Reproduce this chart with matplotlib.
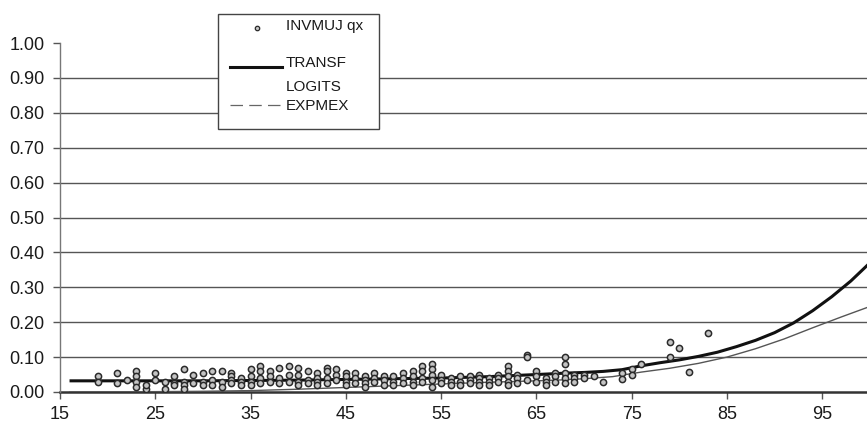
import matplotlib
matplotlib.use("Agg")
import matplotlib.pyplot as plt
from matplotlib.lines import Line2D
from matplotlib.patches import Rectangle

plt.rcParams["font.family"] = ["Liberation Sans", "DejaVu Sans"]

# Observed death probabilities (age, qx)
obs_age = [
    19, 19, 21, 21, 22, 23, 23, 23, 23, 24, 24, 25, 25, 26, 26, 27, 27, 27,
    28, 28, 28, 28, 29, 29, 30, 30, 30, 31, 31, 31, 32, 32, 32, 33, 33, 33, 33,
    34, 34, 34, 35, 35, 35, 35, 36, 36, 36, 36, 37, 37, 37, 38, 38, 38,
    39, 39, 39, 40, 40, 40, 40, 41, 41, 41, 42, 42, 42, 42, 43, 43, 43, 43,
    44, 44, 44, 45, 45, 45, 45, 46, 46, 46, 47, 47, 47, 47, 48, 48, 48,
    49, 49, 49, 50, 50, 50, 51, 51, 51, 52, 52, 52, 52, 53, 53, 53, 53,
    54, 54, 54, 54, 54, 55, 55, 55, 56, 56, 56, 57, 57, 57, 58, 58, 58,
    59, 59, 59, 59, 60, 60, 60, 61, 61, 61, 62, 62, 62, 62, 62, 63, 63, 63,
    64, 64, 64, 65, 65, 65, 66, 66, 66, 67, 67, 67, 68, 68, 68, 68, 68,
    69, 69, 69, 70, 70, 71, 72, 74, 74, 75, 75, 76, 79, 79, 80, 81, 83,
]
obs_qx = [
    0.045, 0.030, 0.055, 0.025, 0.035, 0.060, 0.045, 0.030, 0.015, 0.010, 0.020,
    0.055, 0.035, 0.030, 0.010, 0.045, 0.025, 0.020,
    0.065, 0.030, 0.020, 0.010, 0.050, 0.025, 0.055, 0.030, 0.020,
    0.060, 0.035, 0.020, 0.060, 0.030, 0.015, 0.055, 0.045, 0.035, 0.025,
    0.040, 0.030, 0.020, 0.065, 0.045, 0.030, 0.020, 0.075, 0.060, 0.040, 0.025,
    0.060, 0.045, 0.030, 0.070, 0.040, 0.025,
    0.075, 0.050, 0.030, 0.070, 0.050, 0.030, 0.020, 0.060, 0.035, 0.025,
    0.055, 0.040, 0.030, 0.020, 0.070, 0.060, 0.040, 0.025,
    0.065, 0.050, 0.035, 0.055, 0.045, 0.030, 0.020, 0.055, 0.040, 0.025,
    0.045, 0.035, 0.025, 0.015, 0.055, 0.040, 0.030,
    0.045, 0.035, 0.020, 0.045, 0.030, 0.020, 0.055, 0.040, 0.025,
    0.060, 0.045, 0.030, 0.020, 0.075, 0.060, 0.040, 0.030,
    0.080, 0.065, 0.050, 0.035, 0.015, 0.050, 0.035, 0.025, 0.040, 0.030, 0.020,
    0.045, 0.030, 0.020, 0.045, 0.035, 0.025,
    0.050, 0.040, 0.030, 0.020, 0.040, 0.030, 0.020, 0.050, 0.040, 0.030,
    0.075, 0.060, 0.045, 0.030, 0.020, 0.050, 0.040, 0.025,
    0.105, 0.100, 0.035, 0.060, 0.045, 0.030, 0.040, 0.030, 0.020,
    0.055, 0.045, 0.030, 0.100, 0.080, 0.055, 0.040, 0.025,
    0.050, 0.040, 0.030, 0.050, 0.040, 0.045, 0.029, 0.054, 0.037, 0.066, 0.050,
    0.080, 0.143, 0.100, 0.126, 0.057, 0.169,
]

# Fitted curve: transformed logits
transf_age = [16, 20, 25, 30, 35, 40, 45, 50, 55, 60, 65, 68, 70, 72, 74, 76,
              78, 80, 82, 84, 86, 88, 90, 92, 94, 96, 98, 100]
transf_qx = [0.032, 0.032, 0.032, 0.032, 0.033, 0.034, 0.036, 0.038, 0.040,
             0.044, 0.050, 0.054, 0.056, 0.059, 0.064, 0.075, 0.084, 0.092,
             0.102, 0.114, 0.130, 0.148, 0.170, 0.198, 0.233, 0.273, 0.318,
             0.370]

# Fitted curve: EXPMEX
expmex_age = [16, 25, 30, 35, 40, 45, 50, 55, 60, 65, 68, 70, 73, 76, 79, 82,
              85, 88, 91, 94, 97, 100]
expmex_qx = [0.000, 0.001, 0.002, 0.004, 0.008, 0.013, 0.018, 0.023, 0.028,
             0.032, 0.035, 0.038, 0.044, 0.057, 0.068, 0.082, 0.100, 0.124,
             0.152, 0.184, 0.215, 0.245]

y_ticks = [0.0, 0.1, 0.2, 0.3, 0.4, 0.5, 0.6, 0.7, 0.8, 0.9, 1.0]
x_ticks = [15, 25, 35, 45, 55, 65, 75, 85, 95]

W, H = 867, 426
fig = plt.figure(figsize=(W / 100, H / 100), dpi=100)
fig.patch.set_facecolor("white")
ax = fig.add_axes([60 / W, 1 - 392 / H, 807 / W, (392 - 43) / H])

for y in y_ticks[1:-1]:
    ax.axhline(y, color="#555555", lw=1.0, zorder=1)

ax.plot(expmex_age, expmex_qx, color="#555555", lw=1.0, zorder=3)
ax.plot(transf_age, transf_qx, color="#111111", lw=2.2, zorder=4,
        solid_capstyle="butt")
ax.scatter(obs_age, obs_qx, s=20, facecolor="#c4c4c4", edgecolor="#2a2a2a",
           linewidths=1.1, zorder=5)

ax.set_xlim(15, 99.7)
ax.set_ylim(0, 1.0)
ax.set_xticks(x_ticks)
ax.set_yticks(y_ticks)
ax.set_yticklabels([f"{v:.2f}" for v in y_ticks])
ax.tick_params(axis="both", direction="out", length=5, width=1,
               color="#555555", labelsize=13, labelcolor="#1a1a1a")
ax.tick_params(axis="y", pad=6)
ax.tick_params(axis="x", pad=5)

for side in ("top", "right"):
    ax.spines[side].set_visible(False)
ax.spines["left"].set_color("#777777")
ax.spines["left"].set_linewidth(1.0)
ax.spines["bottom"].set_color("#333333")
ax.spines["bottom"].set_linewidth(1.8)
ax.spines["bottom"].set_zorder(2)


def px(x, y):
    return x / W, 1 - y / H


# Legend box drawn in figure pixels
x0, y0 = px(218, 129)
x1, y1 = px(379, 14)
fig.add_artist(Rectangle((x0, y0), x1 - x0, y1 - y0, transform=fig.transFigure,
                         facecolor="white", edgecolor="#444444", lw=1.0,
                         zorder=10))
mx, my = px(257, 28)
fig.add_artist(Line2D([mx], [my], marker="o", markersize=3.2,
                      markerfacecolor="#c4c4c4", markeredgecolor="#2a2a2a",
                      markeredgewidth=0.9, transform=fig.transFigure,
                      zorder=11))
la, ly = px(230, 67)
lb, _ = px(282, 67)
fig.add_artist(Line2D([la, lb], [ly, ly], color="#111111", lw=2.2,
                      transform=fig.transFigure, zorder=11))
_, dy = px(0, 105)
fig.add_artist(Line2D([la, lb], [dy, dy], color="#666666", lw=0.9,
                      dashes=(10, 5), transform=fig.transFigure, zorder=11))

legend_texts = [("INVMUJ qx", 26), ("TRANSF", 63), ("LOGITS", 87),
                ("EXPMEX", 106)]
for label, yc in legend_texts:
    tx, ty = px(286, yc)
    fig.text(tx, ty, label, fontsize=11, color="#1a1a1a", va="center",
             ha="left", zorder=12)

fig.savefig("out.png", dpi=100)
